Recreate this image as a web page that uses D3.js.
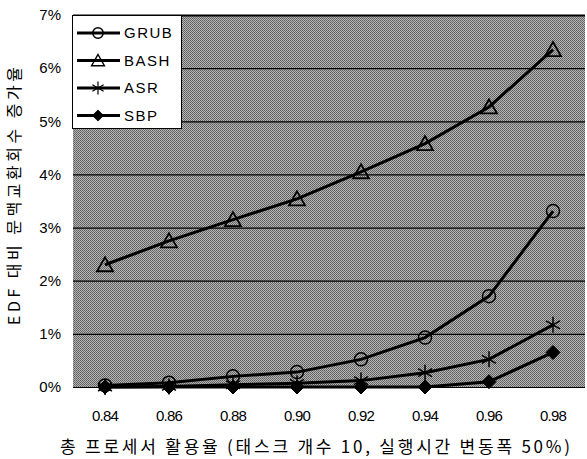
<!DOCTYPE html>
<html>
<head>
<meta charset="utf-8">
<script src="https://cdn.jsdelivr.net/npm/d3@7"></script>
<style>
  body { margin: 0; background: #fff; }
  text { font-family: "Liberation Sans", Arial, sans-serif; }
  .kr { font-family: "Noto Sans CJK KR", "Liberation Sans", sans-serif; }
</style>
</head>
<body>
<div id="chart"></div>
<script>
const categories = ['0.84', '0.86', '0.88', '0.90', '0.92', '0.94', '0.96', '0.98'];
const grub = [0.03, 0.08, 0.2, 0.28, 0.52, 0.93, 1.71, 3.31];
const bash = [2.3, 2.75, 3.15, 3.54, 4.05, 4.58, 5.27, 6.35];
const asr = [0, 0.01, 0.04, 0.07, 0.12, 0.27, 0.52, 1.17];
const sbp = [0, 0, 0, 0, 0, 0, 0.1, 0.65];
const yTicks = [0, 1, 2, 3, 4, 5, 6, 7];

const series = [
  {name: 'GRUB', values: grub, marker: 'circle'},
  {name: 'BASH', values: bash, marker: 'triangle'},
  {name: 'ASR', values: asr, marker: 'asterisk'},
  {name: 'SBP', values: sbp, marker: 'diamond'}
];

const width = 587, height = 459;
const margin = {top: 15, right: 2, bottom: 72, left: 73};

const svg = d3.select('#chart')
  .append('svg')
    .attr('width', width)
    .attr('height', height);

const x = d3.scalePoint()
  .domain(categories)
  .range([margin.left, width - margin.right])
  .padding(0.5);

const y = d3.scaleLinear()
  .domain([0, 7])
  .range([height - margin.bottom, margin.top]);

// dithered grey plot background
const pat = svg.append('defs').append('pattern')
  .attr('id', 'dither')
  .attr('width', 2).attr('height', 2)
  .attr('patternUnits', 'userSpaceOnUse');
pat.append('rect').attr('width', 2).attr('height', 2).attr('fill', '#b4b4b4');
pat.append('rect').attr('x', 0).attr('y', 0).attr('width', 1).attr('height', 1).attr('fill', '#5e5e5e');
pat.append('rect').attr('x', 1).attr('y', 1).attr('width', 1).attr('height', 1).attr('fill', '#6e6e6e');

svg.append('rect')
  .attr('x', margin.left)
  .attr('y', margin.top)
  .attr('width', width - margin.right - margin.left)
  .attr('height', y(0) - y(7))
  .attr('fill', 'url(#dither)');

// gridlines
svg.append('g')
  .selectAll('line')
  .data(yTicks).enter().append('line')
  .attr('x1', margin.left)
  .attr('x2', width - margin.right)
  .attr('y1', (d) => y(d) + 0.5)
  .attr('y2', (d) => y(d) + 0.5)
  .attr('stroke', '#000')
  .attr('stroke-width', (d) => d === 7 ? 2 : 1.2);

// y axis labels
svg.append('g')
  .selectAll('text')
  .data(yTicks).enter().append('text')
  .attr('x', 61)
  .attr('y', (d) => y(d))
  .attr('dy', '0.35em')
  .attr('text-anchor', 'end')
  .style('font-size', '15px')
  .text((d) => d + '%');

// x axis labels
svg.append('g')
  .selectAll('text')
  .data(categories).enter().append('text')
  .attr('x', (d) => x(d))
  .attr('y', 421)
  .attr('text-anchor', 'middle')
  .style('font-size', '15px')
  .style('letter-spacing', '-0.8px')
  .text((d) => d);

// axis titles
svg.append('text')
  .attr('class', 'kr')
  .attr('x', 60)
  .attr('y', 453)
  .attr('textLength', 510)
  .attr('lengthAdjust', 'spacing')
  .style('font-size', '17px')
  .text('총 프로세서 활용율 (태스크 개수 10, 실행시간 변동폭 50%)');

svg.append('text')
  .attr('class', 'kr')
  .attr('transform', 'translate(20,325) rotate(-90)')
  .attr('textLength', 258)
  .attr('lengthAdjust', 'spacing')
  .style('font-size', '16px')
  .text('EDF 대비 문맥교환회수 증가율');

const line = d3.line()
  .x((d, i) => x(categories[i]))
  .y((d) => y(d));

function drawMarker(g, type, k) {
  k = k || 1;
  if (type === 'circle') {
    g.append('circle').attr('r', 6.5 * k)
      .attr('fill', 'none').attr('stroke', '#000').attr('stroke-width', 1.5);
  } else if (type === 'triangle') {
    g.append('path').attr('transform', 'scale(' + k + ')').attr('d', 'M0,-7.5L8,6.5L-8,6.5Z')
      .attr('fill', 'none').attr('stroke', '#000').attr('stroke-width', 1.8);
  } else if (type === 'asterisk') {
    g.append('path').attr('transform', 'scale(' + k + ')').attr('d', 'M0,-8L0,8M-7,-4L7,4M-7,4L7,-4')
      .attr('fill', 'none').attr('stroke', '#000').attr('stroke-width', 1.5);
  } else {
    g.append('path').attr('transform', 'scale(' + k + ')').attr('d', 'M0,-7L7,0L0,7L-7,0Z')
      .attr('fill', '#000').attr('stroke', '#000').attr('stroke-width', 1);
  }
}

// series lines
svg.append('g')
  .selectAll('path')
  .data(series).enter().append('path')
  .attr('d', (d) => line(d.values))
  .attr('fill', 'none')
  .attr('stroke', '#000')
  .attr('stroke-width', 3);

// markers
series.forEach((s) => {
  s.values.forEach((v, i) => {
    const g = svg.append('g')
      .attr('transform', 'translate(' + x(categories[i]) + ',' + y(v) + ')');
    drawMarker(g, s.marker);
  });
});

// legend
const legend = svg.append('g');
legend.append('rect')
  .attr('x', 72.5).attr('y', 15.5)
  .attr('width', 109).attr('height', 113)
  .attr('fill', '#fff')
  .attr('stroke', '#000')
  .attr('stroke-width', 1);

const item = legend.selectAll('g.item')
  .data(series).enter().append('g')
  .attr('class', 'item')
  .attr('transform', (d, i) => 'translate(0,' + (33 + i * 27.5) + ')');

item.append('line')
  .attr('x1', 77).attr('x2', 120)
  .attr('stroke', '#000').attr('stroke-width', 3);

item.each(function(d) {
  const g = d3.select(this).append('g').attr('transform', 'translate(98,0)');
  drawMarker(g, d.marker, 0.8);
});

item.append('text')
  .attr('x', 124)
  .attr('dy', '0.36em')
  .style('font-size', '15px')
  .style('letter-spacing', '1.5px')
  .text((d) => d.name);
</script>
</body>
</html>
